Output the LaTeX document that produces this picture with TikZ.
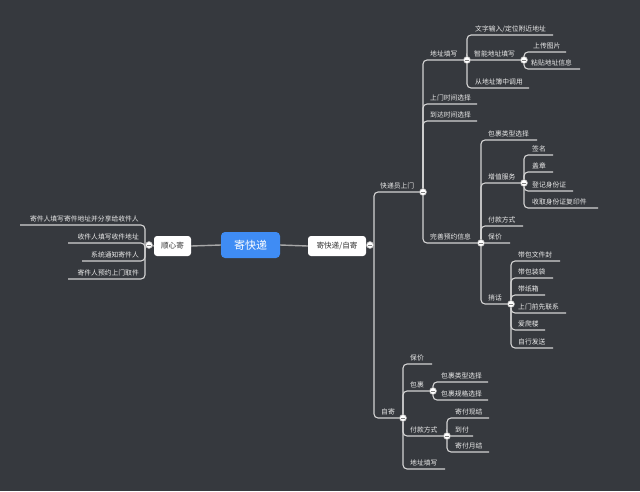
\documentclass[tikz,border=0pt]{standalone}
\usepackage{fontspec}
\setmainfont{Noto Sans CJK SC}
\definecolor{bg}{HTML}{36393E}
\definecolor{ln}{HTML}{D4D4D4}
\definecolor{tx}{HTML}{EAEAEA}
\definecolor{blu}{HTML}{3F8CF4}
\definecolor{dk}{HTML}{333333}
\definecolor{cn}{HTML}{A8A8A8}
\begin{document}
\begin{tikzpicture}[x=1pt,y=-1pt,
  leaf/.style={anchor=base west, inner sep=0pt, text=tx, font=\fontsize{6.8}{7}\selectfont},
  leafl/.style={leaf, anchor=base east},
  edge/.style={draw=ln, line width=1.1pt, rounded corners=4pt},
  conn/.style={draw=cn, line width=1.4pt},
  tog/.style={circle, draw=gray!70, fill=white, minimum size=7pt, inner sep=0pt, line width=0.6pt,
    path picture={\draw[line width=0.7pt, gray] ([xshift=-1.8pt]path picture bounding box.center) -- ([xshift=1.8pt]path picture bounding box.center);}},
  mainbox/.style={rectangle, rounded corners=4pt, fill=blu, text=white, minimum width=59pt, minimum height=26pt, inner sep=0pt, font=\fontsize{11}{12}\selectfont},
  subbox/.style={rectangle, rounded corners=3pt, fill=white, text=dk, minimum height=20pt, inner sep=0pt, font=\fontsize{7.6}{8}\selectfont}
]
\useasboundingbox (0,0) rectangle (640,491);
\fill[bg] (0,0) rectangle (640,491);

% central and first level boxes
\node[mainbox] (root) at (250.5,245) {寄快递};
\node[subbox, minimum width=37pt] (shun) at (172.5,246) {顺心寄};
\node[subbox, minimum width=58pt] (zij) at (337,246) {寄快递/自寄};
\draw[conn] (shun.east) -- (root.west);
\draw[conn] (root.east) -- (zij.west);

% toggle / spine coordinates
\coordinate (L) at (149,245);
\coordinate (Ls) at (145,245);
\coordinate (R) at (370,245);
\coordinate (Rs) at (374,245);
\coordinate (A) at (423,192);
\coordinate (B) at (403,418);
\coordinate (A1) at (467,60);
\coordinate (A12) at (524,60);
\coordinate (A4) at (481,243);
\coordinate (A42) at (524,183);
\coordinate (A45) at (511,304);
\coordinate (B2) at (433,391);
\coordinate (B3) at (447,436);

\draw[conn] (zij.east) -- (R);
\draw[conn] (shun.west) -- (L);
\draw[edge] (R) -- (Rs);
\draw[edge] (L) -- (Ls);

% left leaves
\node[leafl] (l1) at (139,221) {寄件人填写寄件地址并分享给收件人};
\node[leafl] (l2) at (139,239) {收件人填写收件地址};
\node[leafl] (l3) at (139,257) {系统通知寄件人};
\node[leafl] (l4) at (139,275) {寄件人预约上门取件};
\coordinate (el1) at (20,225);
\coordinate (el2) at (68,243);
\coordinate (el3) at (82,261);
\coordinate (el4) at (68,279);
\foreach \e in {el1,el2,el3,el4} \draw[edge] (Ls) |- (\e);

% right first level
\node[leaf] (a) at (380,188) {快递员上门};
\node[leaf] (b) at (381,414) {自寄};
\draw[edge] (Rs) |- (A);
\draw[edge] (Rs) |- (B);

% A children
\node[leaf] (a1) at (430,56) {地址填写};
\node[leaf] (a2) at (430,100) {上门时间选择};
\node[leaf] (a3) at (430,117) {到达时间选择};
\node[leaf] (a4) at (430,239) {完善预约信息};
\coordinate (ea2) at (477,104);
\coordinate (ea3) at (477,121);
\foreach \e in {A1,ea2,ea3,A4} \draw[edge] (A) |- (\e);

% A1 children
\node[leaf] (a11) at (475,31) {文字输入/定位附近地址};
\node[leaf] (a12) at (474,56) {智能地址填写};
\node[leaf] (a13) at (475,84) {从地址簿中调用};
\coordinate (ea11) at (553,35);
\coordinate (ea13) at (529,88);
\foreach \e in {ea11,A12,ea13} \draw[edge] (A1) |- (\e);

% A12 children
\node[leaf] (a121) at (533,48) {上传图片};
\node[leaf] (a122) at (531,65) {粘贴地址信息};
\coordinate (ea121) at (566,52);
\coordinate (ea122) at (580,69);
\foreach \e in {ea121,ea122} \draw[edge] (A12) |- (\e);

% A4 children
\node[leaf] (a41) at (488,136) {包裹类型选择};
\node[leaf] (a42) at (488,179) {增值服务};
\node[leaf] (a43) at (488,222) {付款方式};
\node[leaf] (a44) at (488,239) {保价};
\node[leaf] (a45) at (488,300) {捎话};
\coordinate (ea41) at (537,140);
\coordinate (ea43) at (523,226);
\coordinate (ea44) at (510,243);
\foreach \e in {ea41,A42,ea43,ea44,A45} \draw[edge] (A4) |- (\e);

% A42 children
\node[leaf] (a421) at (532,151) {签名};
\node[leaf] (a422) at (532,168) {盖章};
\node[leaf] (a423) at (532,187) {登记身份证};
\node[leaf] (a424) at (532,204) {收取身份证复印件};
\coordinate (ea421) at (553,155);
\coordinate (ea422) at (553,172);
\coordinate (ea423) at (573,191);
\coordinate (ea424) at (598,208);
\foreach \e in {ea421,ea422,ea423,ea424} \draw[edge] (A42) |- (\e);

% A45 children
\node[leaf] (a451) at (518,257) {带包文件封};
\node[leaf] (a452) at (518,274) {带包装袋};
\node[leaf] (a453) at (518,291) {带纸箱};
\node[leaf] (a454) at (518,309) {上门前先联系};
\node[leaf] (a455) at (518,326) {爱爬楼};
\node[leaf] (a456) at (518,344) {自行发送};
\coordinate (ea451) at (560,261);
\coordinate (ea452) at (553,278);
\coordinate (ea453) at (545,295);
\coordinate (ea454) at (566,313);
\coordinate (ea455) at (545,330);
\coordinate (ea456) at (553,348);
\foreach \e in {ea451,ea452,ea453,ea454,ea455,ea456} \draw[edge] (A45) |- (\e);

% B children
\node[leaf] (b1) at (410,360) {保价};
\node[leaf] (b2) at (410,387) {包裹};
\node[leaf] (b3) at (410,432) {付款方式};
\node[leaf] (b4) at (410,465) {地址填写};
\coordinate (eb1) at (432,364);
\coordinate (eb4) at (445,469);
\foreach \e in {eb1,B2,B3,eb4} \draw[edge] (B) |- (\e);

% B2 children
\node[leaf] (b21) at (441,378) {包裹类型选择};
\node[leaf] (b22) at (441,396) {包裹规格选择};
\coordinate (eb21) at (488,382);
\coordinate (eb22) at (488,400);
\foreach \e in {eb21,eb22} \draw[edge] (B2) |- (\e);

% B3 children
\node[leaf] (b31) at (455,414) {寄付现结};
\node[leaf] (b32) at (455,432) {到付};
\node[leaf] (b33) at (455,448) {寄付月结};
\coordinate (eb31) at (489,418);
\coordinate (eb32) at (473,436);
\coordinate (eb33) at (489,452);
\foreach \e in {eb31,eb32,eb33} \draw[edge] (B3) |- (\e);

% toggles
\foreach \t in {L,R,A,B,A1,A12,A4,A42,A45,B2,B3} \node[tog] at (\t) {};
\end{tikzpicture}
\end{document}
